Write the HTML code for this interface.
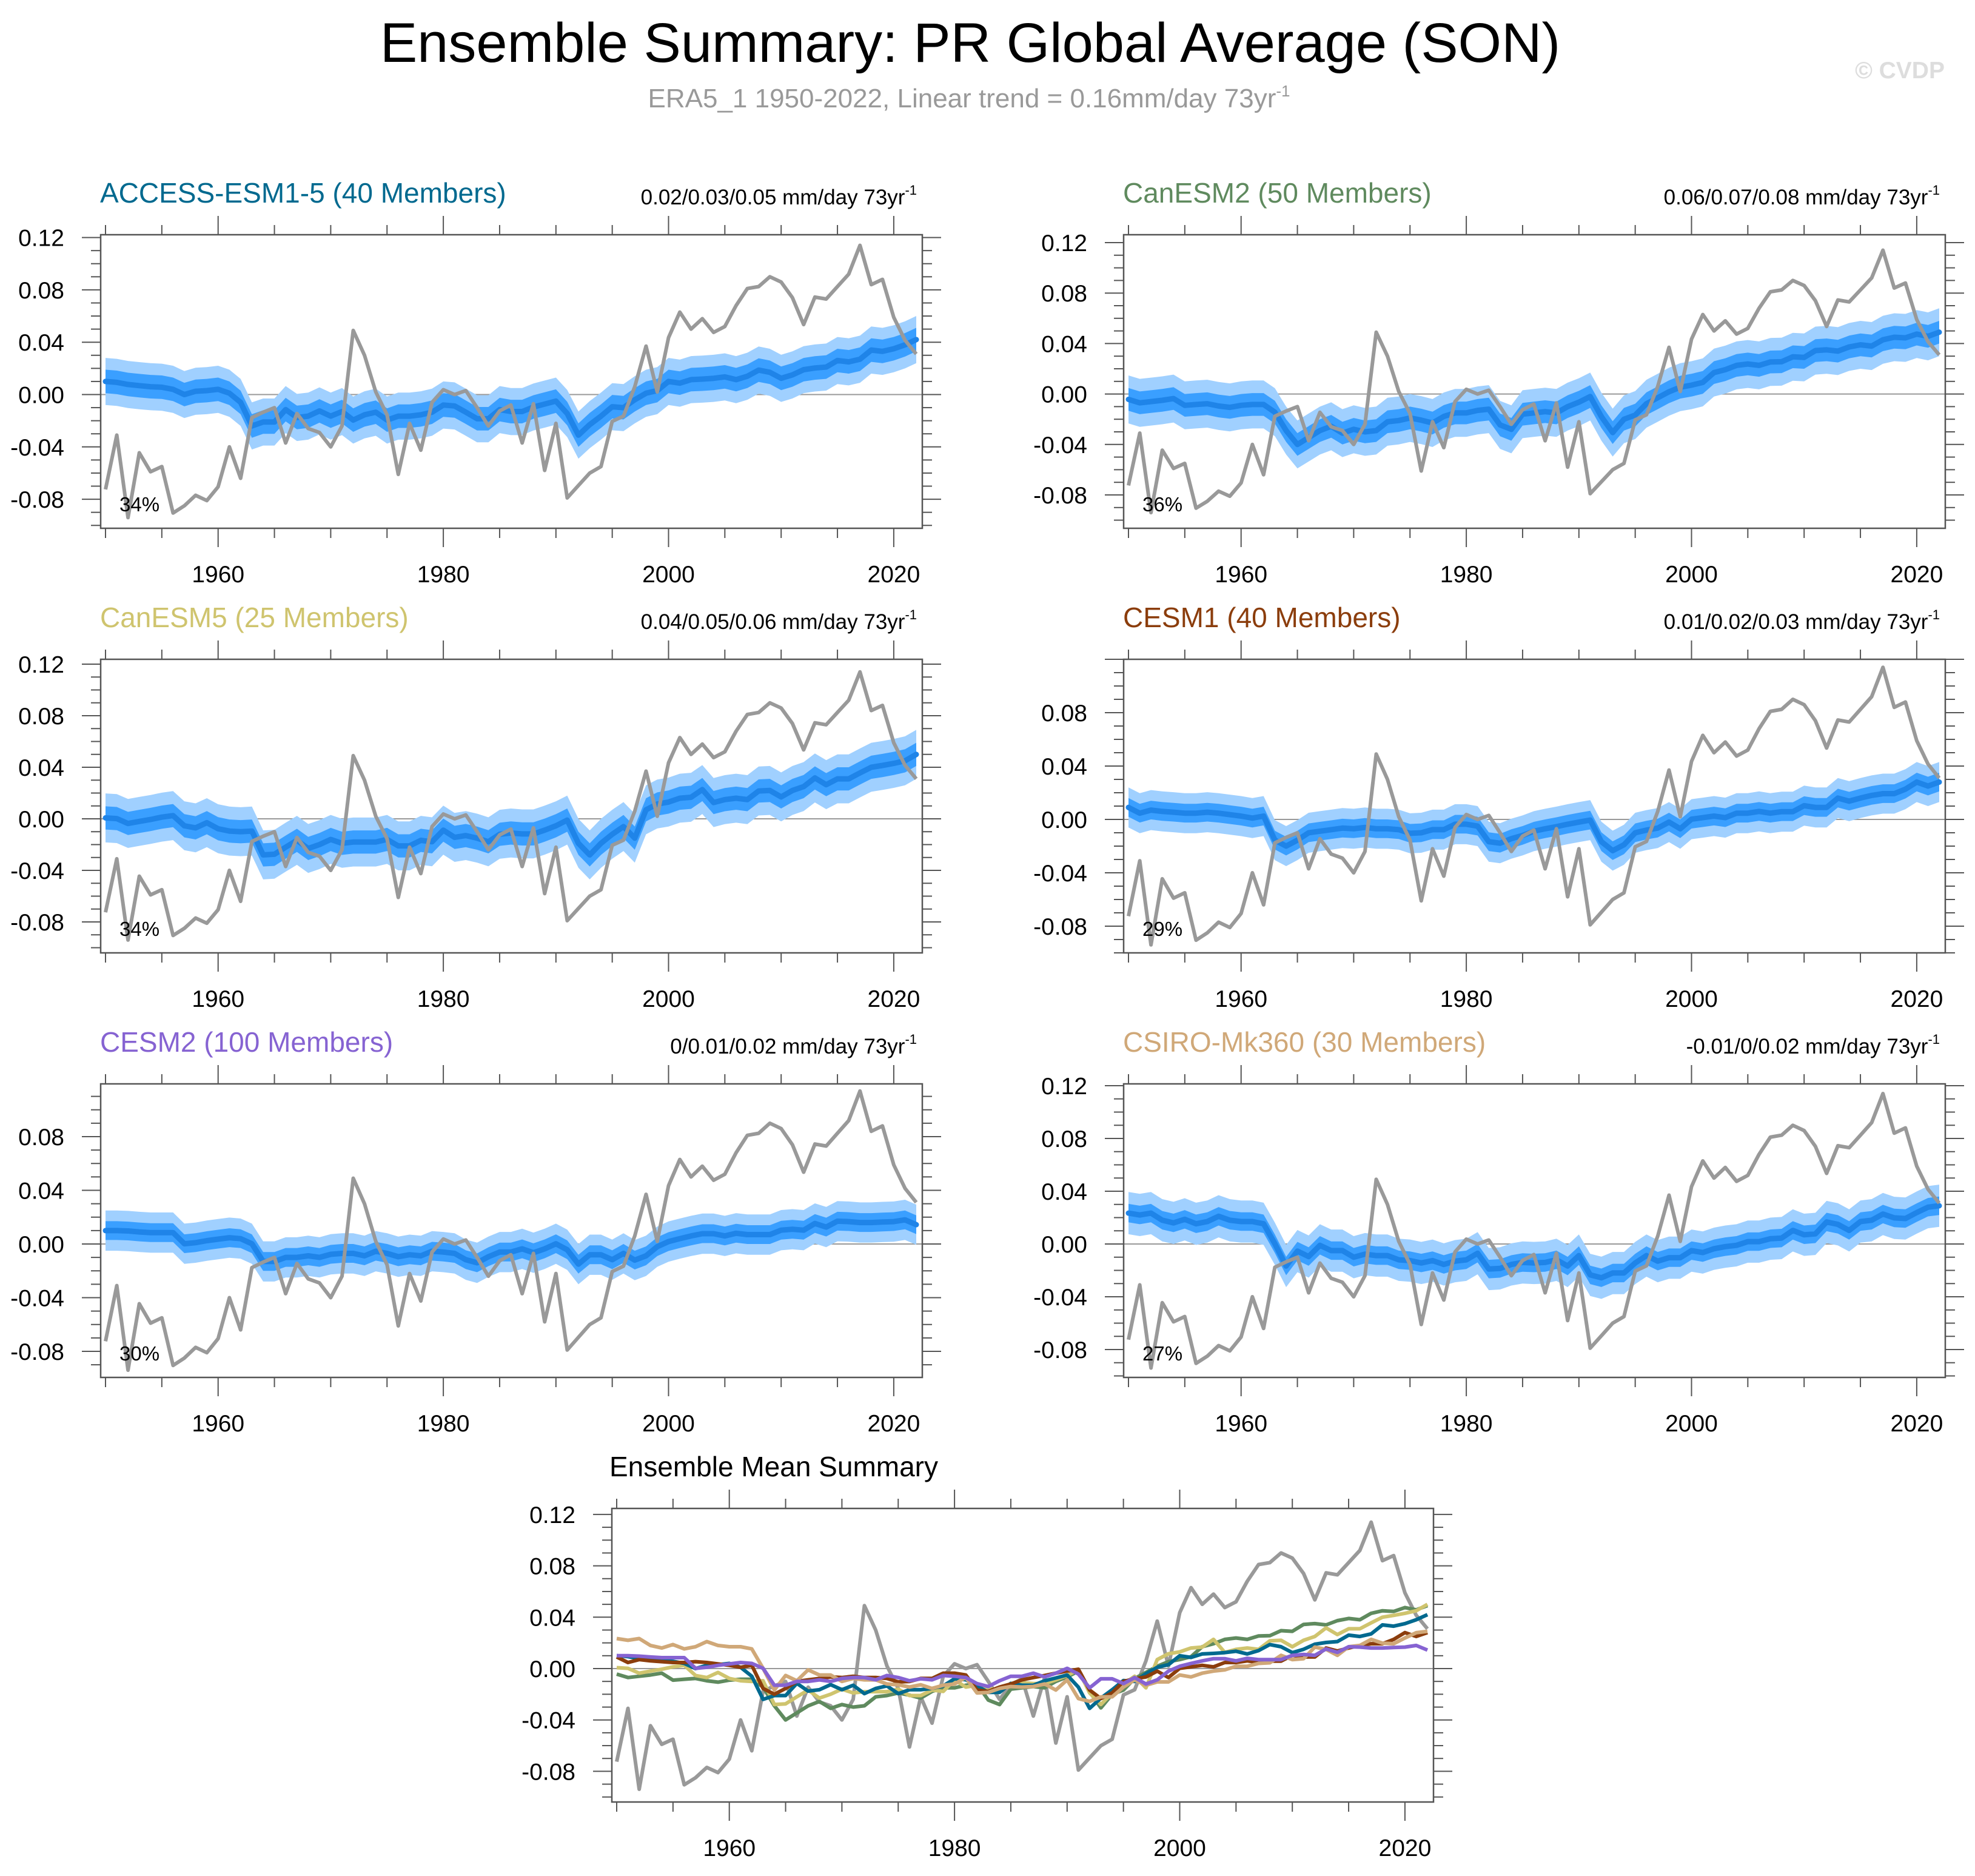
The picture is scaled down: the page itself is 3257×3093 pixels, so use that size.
<!DOCTYPE html>
<html><head><meta charset="utf-8"><style>
html,body{margin:0;padding:0;background:#fff}
svg{display:block}
text{font-family:"Liberation Sans",Arial,sans-serif}
</style></head><body>
<svg id="chart" width="3257" height="3093" viewBox="0 0 3257 3093" xmlns="http://www.w3.org/2000/svg">
<text x="1600" y="102" font-size="92" text-anchor="middle" fill="#000">Ensemble Summary: PR Global Average (SON)</text>
<text x="1598" y="177" font-size="44" text-anchor="middle" fill="#999">ERA5_1 1950-2022, Linear trend = 0.16mm/day 73yr<tspan dy="-18" font-size="26">-1</tspan></text>
<text x="3207" y="129" font-size="39" font-weight="bold" text-anchor="end" fill="#dddddd">© CVDP</text>
<g id="panels"></g>
</svg>
<script>
const years = []; for (let y = 1950; y <= 2022; y++) years.push(y);
const obs = [-0.0725,-0.031,-0.094,-0.0445,-0.059,-0.055,-0.0905,-0.085,-0.077,-0.081,-0.0705,-0.040,-0.064,-0.0176,-0.0135,-0.010,-0.037,-0.0145,-0.026,-0.029,-0.040,-0.024,0.049,0.030,0.002,-0.0155,-0.061,-0.022,-0.0425,-0.006,0.0037,0.000,0.003,-0.010,-0.024,-0.0125,-0.008,-0.037,-0.007,-0.058,-0.022,-0.079,-0.0695,-0.060,-0.055,-0.0205,-0.0165,0.006,0.037,0.002,0.0435,0.063,0.050,0.058,0.0475,0.052,0.068,0.081,0.0825,0.090,0.086,0.074,0.0535,0.0745,0.073,0.0825,0.092,0.114,0.084,0.088,0.059,0.0415,0.031];
const meanACCESS = [0.010,0.0093,0.0077,0.0068,0.006,0.0056,0.004,0.000,0.0025,0.003,0.004,0.001,-0.006,-0.024,-0.021,-0.021,-0.0115,-0.0175,-0.0165,-0.0125,-0.0165,-0.013,-0.0195,-0.0155,-0.0135,-0.0195,-0.0165,-0.0165,-0.0155,-0.0135,-0.008,-0.0087,-0.0135,-0.0185,-0.0185,-0.0115,-0.013,-0.013,-0.0095,-0.0073,-0.005,-0.0145,-0.031,-0.023,-0.0165,-0.0093,-0.010,-0.004,0.001,0.003,0.010,0.0087,0.0114,0.0118,0.0124,0.0135,0.0114,0.014,0.0187,0.017,0.0124,0.015,0.019,0.0203,0.021,0.026,0.025,0.027,0.034,0.033,0.035,0.038,0.042];
const meanCanESM2 = [-0.0043,-0.007,-0.006,-0.005,-0.0036,-0.009,-0.0083,-0.0077,-0.0095,-0.0106,-0.009,-0.0083,-0.0083,-0.0144,-0.029,-0.040,-0.0345,-0.029,-0.0256,-0.031,-0.028,-0.030,-0.029,-0.022,-0.021,-0.019,-0.0207,-0.023,-0.0178,-0.015,-0.015,-0.013,-0.012,-0.0245,-0.028,-0.016,-0.015,-0.014,-0.015,-0.010,-0.0065,-0.002,-0.018,-0.0306,-0.020,-0.0167,-0.0077,-0.003,0.0018,0.0054,0.007,0.0092,0.017,0.0193,0.0227,0.0238,0.0227,0.0254,0.0256,0.0295,0.029,0.0344,0.035,0.034,0.0373,0.039,0.038,0.043,0.045,0.0445,0.0475,0.0457,0.049];
const meanCanESM5 = [0.0007,0.0002,-0.0036,-0.002,-0.0005,0.0013,0.0025,-0.0054,-0.007,-0.003,-0.0077,-0.0095,-0.010,-0.0095,-0.028,-0.0275,-0.022,-0.0167,-0.023,-0.020,-0.016,-0.019,-0.018,-0.018,-0.018,-0.016,-0.021,-0.021,-0.0167,-0.0178,-0.0088,-0.0144,-0.013,-0.015,-0.0178,-0.012,-0.011,-0.0117,-0.0117,-0.0088,-0.0054,-0.001,-0.019,-0.028,-0.019,-0.012,-0.006,-0.015,0.007,0.0115,0.013,0.016,0.0167,0.0227,0.0126,0.0149,0.016,0.0149,0.0216,0.022,0.017,0.022,0.025,0.0317,0.0265,0.031,0.031,0.0356,0.040,0.0414,0.043,0.045,0.050];
const meanCESM1 = [0.009,0.0047,0.007,0.006,0.0054,0.0047,0.0047,0.0054,0.0047,0.0036,0.0025,0.001,0.0025,-0.0155,-0.020,-0.0155,-0.010,-0.0088,-0.0077,-0.0065,-0.007,-0.006,-0.007,-0.007,-0.0077,-0.0104,-0.010,-0.0077,-0.0077,-0.0036,-0.0036,-0.005,-0.0167,-0.0178,-0.0144,-0.012,-0.0088,-0.007,-0.0054,-0.0036,-0.002,-0.0005,-0.0167,-0.0234,-0.019,-0.010,-0.008,-0.0065,-0.002,-0.007,0.0002,0.0013,0.0025,0.0013,0.0047,0.0047,0.006,0.0047,0.0058,0.0058,0.0103,0.009,0.009,0.016,0.0137,0.016,0.018,0.0193,0.0193,0.0227,0.028,0.025,0.028];
const meanCESM2 = [0.010,0.010,0.0097,0.009,0.0085,0.0085,0.0085,0.0002,0.001,0.0025,0.0036,0.0047,0.004,0.0002,-0.013,-0.013,-0.010,-0.010,-0.0088,-0.010,-0.0077,-0.007,-0.007,-0.0088,-0.0054,-0.007,-0.0095,-0.008,-0.0088,-0.0054,-0.006,-0.007,-0.0117,-0.014,-0.0095,-0.006,-0.006,-0.0036,-0.0065,-0.0036,0.0002,-0.0043,-0.015,-0.008,-0.008,-0.0117,-0.007,-0.012,-0.0088,-0.002,0.0018,0.004,0.006,0.0077,0.0077,0.006,0.008,0.007,0.007,0.007,0.0103,0.011,0.0103,0.0153,0.0126,0.017,0.0167,0.016,0.016,0.0164,0.0167,0.018,0.0144];
const meanCSIRO = [0.0234,0.022,0.0234,0.018,0.016,0.0187,0.0153,0.017,0.021,0.018,0.017,0.017,0.0153,0.0002,-0.0167,-0.0054,-0.0095,-0.001,-0.005,-0.005,-0.010,-0.0077,-0.0088,-0.0088,-0.012,-0.0126,-0.0144,-0.0126,-0.0155,-0.013,-0.012,-0.007,-0.019,-0.0185,-0.0155,-0.014,-0.0144,-0.014,-0.012,-0.0167,-0.0088,-0.0234,-0.0256,-0.022,-0.022,-0.0144,-0.0088,-0.013,-0.0104,-0.0104,-0.005,-0.0065,-0.0036,-0.002,-0.001,0.0018,0.0018,0.004,0.0045,0.0103,0.007,0.0077,0.0167,0.0149,0.0103,0.017,0.018,0.0227,0.0198,0.0193,0.0238,0.0279,0.029];
const modelNames = ["ACCESS-ESM1-5 (40 Members)","CanESM2 (50 Members)","CanESM5 (25 Members)","CESM1 (40 Members)","CESM2 (100 Members)","CSIRO-Mk360 (30 Members)"];
const trendLabels = ["0.02/0.03/0.05 mm/day 73yr","0.06/0.07/0.08 mm/day 73yr","0.04/0.05/0.06 mm/day 73yr","0.01/0.02/0.03 mm/day 73yr","0/0.01/0.02 mm/day 73yr","-0.01/0/0.02 mm/day 73yr"];
const pctLabels = ["34%","36%","34%","29%","30%","27%"];
const innerSpread = [0.009,0.009,0.009,0.007,0.007,0.007];
const outerSpread = [0.018,0.019,0.019,0.015,0.015,0.016];
const yTickLabels = ["-0.08","-0.04","0.00","0.04","0.08","0.12"];
const yTickValues = [-0.08,-0.04,0.00,0.04,0.08,0.12];
const xTickYears = [1960,1980,2000,2020];
const means = [meanACCESS,meanCanESM2,meanCanESM5,meanCESM1,meanCESM2,meanCSIRO];
const modelColors = ["#00698f","#5f8a5e","#cfc46e","#8b3d0c","#8663d2","#d0a878"];

const NS = "http://www.w3.org/2000/svg";
const root = document.getElementById('panels');
function mk(tag, attrs, parent, txt) {
  const e = document.createElementNS(NS, tag);
  for (const k in attrs) e.setAttribute(k, attrs[k]);
  if (txt !== undefined) e.textContent = txt;
  parent.appendChild(e); return e;
}
const layouts = [
  {ox:0,oy:0,zero:650.5,per:86.3,top12:true},
  {ox:1687,oy:0,zero:649.6,per:83.2,top12:true},
  {ox:0,oy:700,zero:1350,per:85,top12:true},
  {ox:1687,oy:700,zero:1351,per:88,top12:false},
  {ox:0,oy:1400,zero:2051,per:88.5,top12:false},
  {ox:1687,oy:1400,zero:2051,per:87,top12:true},
  {ox:843,oy:2100,zero:2751,per:84.7,top12:true}
];
function drawAxes(g, L, name) {
  const bx0 = L.ox+166, bx1 = L.ox+1521, by0 = L.oy+387, by1 = L.oy+871;
  const X = yr => L.ox + 174 + (yr-1950)*18.57;
  const Y = v => L.zero - v*L.per/0.04;
  const box = mk('rect',{x:bx0,y:by0,width:bx1-bx0,height:by1-by0,fill:'#fff',stroke:'none'},g);
  
  
  const ax = mk('g',{stroke:'#555','stroke-width':2},g);
  
  
  for (let yr=1950; yr<=2020; yr+=5) {
    const major = yr%20===0; const len = major?31:16; const x = X(yr);
    mk('line',{x1:x,x2:x,y1:by0,y2:by0-len},ax);
    mk('line',{x1:x,x2:x,y1:by1,y2:by1+len},ax);
  }
  for (let k=-10; k<=12; k++) {
    const v = k/100; const y = Y(v);
    if (y < by0-1 || y > by1+1) continue;
    const major = k%4===0; const len = major?31:16;
    mk('line',{x1:bx0,x2:bx0-len,y1:y,y2:y},ax);
    mk('line',{x1:bx1,x2:bx1+len,y1:y,y2:y},ax);
  }
  xTickYears.forEach(yr => {
    const t = mk('text',{x:X(yr),y:L.oy+960,'font-size':39,'text-anchor':'middle',fill:'#000'},g,String(yr));
    
    
  });
  yTickValues.forEach((v,i) => {
    if (v===0.12 && !L.top12) return;
    const t = mk('text',{x:L.ox+106,y:Y(v)+14,'font-size':39,'text-anchor':'end',fill:'#000'},g,yTickLabels[i]);
    
    
  });
  const z = mk('line',{x1:bx0,x2:bx1,y1:Y(0),y2:Y(0),stroke:'#999','stroke-width':2},g);
  
  
  return {X,Y,bx0,bx1,by0,by1};
}
function linePath(X,Y,arr){ return arr.map((v,i)=>(i?'L':'M')+X(years[i]).toFixed(1)+','+Y(v).toFixed(1)).join(''); }
function bandPath(X,Y,arr,s){
  let d = arr.map((v,i)=>(i?'L':'M')+X(years[i]).toFixed(1)+','+Y(v+s).toFixed(1)).join('');
  for (let i=arr.length-1;i>=0;i--) d += 'L'+X(years[i]).toFixed(1)+','+Y(arr[i]-s).toFixed(1);
  return d+'Z';
}
for (let p=0; p<6; p++) {
  const L = layouts[p];
  const g = mk('g',{},root);
  
  
  const A = drawAxes(g, L, 'panel-'+(p+1));
  const ob = mk('path',{d:bandPath(A.X,A.Y,means[p],outerSpread[p]),fill:'#a0d0ff',stroke:'none'},g);
  
  
  const ib = mk('path',{d:bandPath(A.X,A.Y,means[p],innerSpread[p]),fill:'#3a9fff',stroke:'none'},g);
  
  
  const ml = mk('path',{d:linePath(A.X,A.Y,means[p]),fill:'none',stroke:'#1f84e8','stroke-width':9,'stroke-linejoin':'round','stroke-linecap':'round'},g);
  
  
  const ol = mk('path',{d:linePath(A.X,A.Y,obs),fill:'none',stroke:'#999','stroke-width':6,'stroke-linejoin':'round'},g);
  
  
  const bb = mk('rect',{x:A.bx0,y:A.by0,width:A.bx1-A.bx0,height:A.by1-A.by0,fill:'none',stroke:'#555','stroke-width':2.5},g);
  
  
  const tt = mk('text',{x:L.ox+165,y:L.oy+334,'font-size':46,fill:modelColors[p]},g,modelNames[p]);
  
  
  const tr = mk('text',{x:L.ox+1512,y:L.oy+337,'font-size':35,'text-anchor':'end',fill:'#000'},g,trendLabels[p]);
  
  
  mk('tspan',{dy:-16,'font-size':22},tr,'-1');
  const pc = mk('text',{x:L.ox+197,y:L.oy+843,'font-size':33,fill:'#000'},g,pctLabels[p]);
  
  
}
{
  const L = layouts[6];
  const g = mk('g',{},root);
  
  
  const A = drawAxes(g, L, 'summary');
  const ol = mk('path',{d:linePath(A.X,A.Y,obs),fill:'none',stroke:'#999','stroke-width':6,'stroke-linejoin':'round'},g);
  
  
  const order = [1,2,0,3,5,4];
  order.forEach(p => {
    const l = mk('path',{d:linePath(A.X,A.Y,means[p]),fill:'none',stroke:modelColors[p],'stroke-width':6,'stroke-linejoin':'round'},g);
    
    
  });
  const bb = mk('rect',{x:A.bx0,y:A.by0,width:A.bx1-A.bx0,height:A.by1-A.by0,fill:'none',stroke:'#555','stroke-width':2.5},g);
  
  
  const tt = mk('text',{x:1005,y:2434,'font-size':46,fill:'#000'},g,'Ensemble Mean Summary');
  
  
}
</script>
</body></html>
